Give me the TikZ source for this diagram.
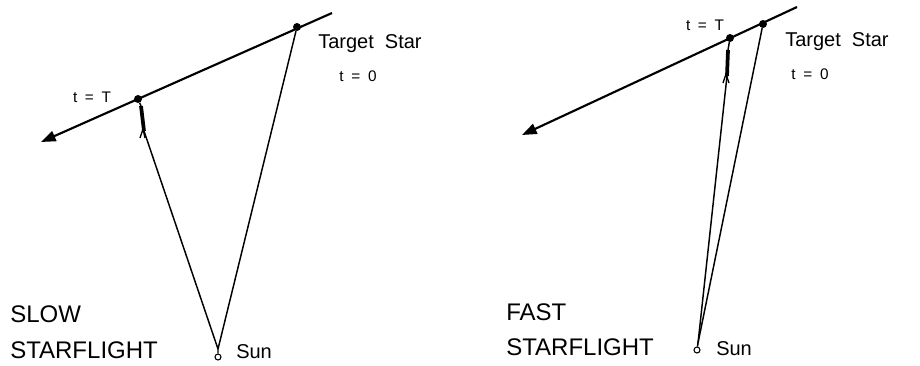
\documentclass[tikz,border=0pt]{standalone}
\usepackage{fontspec}
\setmainfont{Liberation Sans}
\usetikzlibrary{arrows.meta}

\begin{document}
\begin{tikzpicture}[
    x=0.75pt, y=-0.75pt,
    star/.style={circle, fill=black, inner sep=0pt, minimum size=6pt},
    sun/.style={circle, draw=black, line width=0.8pt, fill=white, inner sep=0pt, minimum size=4.5pt},
    track/.style={line width=1.6pt, -{Triangle[length=11pt, width=8pt]}},
    ray/.style={line width=1.1pt},
    ship/.style={line width=2.8pt},
    fin/.style={line width=1pt},
    big/.style={font=\fontsize{18}{20}\selectfont, anchor=base west, inner sep=0pt},
    lab/.style={font=\fontsize{15}{17}\selectfont, anchor=base west, inner sep=0pt},
    small/.style={font=\fontsize{11.5}{13}\selectfont, inner sep=0pt}
  ]
    \useasboundingbox (0,0) rectangle (920,365);

    % slow starflight
    \coordinate (slowEnd) at (332,13);
    \coordinate (slowTip) at (41,142);
    \node[star] (slowTarget) at (297,27) {};
    \node[star] (slowMeet) at (138,99) {};
    \node[sun] (slowSun) at (218,357) {};
    \coordinate (slowBase) at (218,349);
    \coordinate (slowShip) at (144,131);
    \coordinate (slowNose) at (141,106);

    \draw[track] (slowEnd) -- (slowTip);
    \draw[ray] (slowSun) -- (slowBase) -- (slowTarget);
    \draw[ray] (slowBase) -- (slowShip);
    \draw[ray] (slowNose) -- (slowMeet);
    \draw[ship] (slowShip) -- (slowNose);
    \draw[fin] ([shift={(-4,7)}]slowShip) -- ([shift={(-1,-2)}]slowShip) -- ([shift={(1,7)}]slowShip);

    \node[small] (slowTT) at (92,97) {t\enspace=\enspace T};
    \node[lab] (slowName) at (318,48) {Target\ \ Star};
    \node[small] (slowT0) at (358,76) {t\enspace=\enspace 0};
    \node[lab] (slowSunLab) at (236,358) {Sun};
    \node[big] (slowWord) at (10,322) {SLOW};
    \node[big] (slowFlight) at (10,358) {STARFLIGHT};

    % fast starflight
    \coordinate (fastEnd) at (797,7);
    \coordinate (fastTip) at (522,135);
    \node[star] (fastTarget) at (763,24) {};
    \node[star] (fastMeet) at (730,38) {};
    \node[sun] (fastSun) at (697,350) {};
    \coordinate (fastBase) at (698,343);
    \coordinate (fastShip) at (727,76);
    \coordinate (fastNose) at (728,50);

    \draw[track] (fastEnd) -- (fastTip);
    \draw[ray] (fastSun) -- (fastBase) -- (fastTarget);
    \draw[ray] (fastBase) -- (fastShip);
    \draw[ray] (fastNose) -- (fastMeet);
    \draw[ship] (fastShip) -- (fastNose);
    \draw[fin] ([shift={(-4,7)}]fastShip) -- ([shift={(-1,-2)}]fastShip) -- ([shift={(2,7)}]fastShip);

    \node[small] (fastTT) at (705,25) {t\enspace=\enspace T};
    \node[lab] (fastName) at (785,46) {Target\ \ Star};
    \node[small] (fastT0) at (810,74) {t\enspace=\enspace 0};
    \node[lab] (fastSunLab) at (716,355) {Sun};
    \node[big] (fastWord) at (506,320) {FAST};
    \node[big] (fastFlight) at (506,355) {STARFLIGHT};
  \end{tikzpicture}
\end{document}
